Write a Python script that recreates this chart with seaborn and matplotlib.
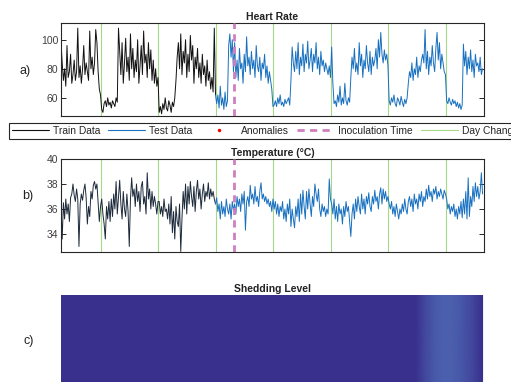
import numpy as np
import matplotlib
matplotlib.use('Agg')
import matplotlib.pyplot as plt
from matplotlib.lines import Line2D
from matplotlib.colors import LinearSegmentedColormap
import seaborn as sns

# heart rate, one value per half hour, split by day
hr_d0 = [98, 84, 72, 80, 68, 96, 74, 78, 90, 70, 76, 86, 72, 78, 108, 74, 82, 70, 80, 96,
         76, 84, 78, 72, 106, 80, 88, 76, 84, 107, 98, 78, 66, 62]
hr_d1 = [52, 50, 56, 58, 54, 60, 55, 57, 53, 58, 56, 54, 60, 57,
         108, 92, 76, 98, 70, 84, 101, 78, 88, 72, 104, 80, 94, 74, 86, 78, 100, 70, 82, 96,
         76, 106, 84, 90, 74, 98, 80, 93, 72, 86, 70, 80, 68, 74]
hr_d2 = [50, 54, 49, 56, 52, 60, 53, 51, 58, 55, 50, 57, 54, 60,
         72, 88, 98, 80, 104, 76, 92, 84, 100, 74, 90, 78, 103, 86, 96, 70, 88, 80, 94, 74,
         84, 70, 90, 76, 82, 68, 86, 72, 78, 66, 74, 64, 108, 62]
hr_d3 = [56, 62, 53, 68, 55, 60, 52, 64, 54, 58,
         96, 104, 88, 100, 78, 98, 74, 86, 72, 94, 80, 84, 70, 90, 78, 102, 82, 88, 76, 92,
         80, 86, 74, 96, 82, 78, 88, 72, 84, 80, 90, 74, 82, 70, 78, 72, 66, 54]
hr_d4 = [55, 58, 54, 60, 56, 62, 55, 57, 54, 59, 56, 58, 60, 55,
         72, 95, 84, 78, 92, 80, 98, 76, 88, 82, 97, 78, 90, 84, 99, 80, 86, 94, 78, 90,
         84, 98, 80, 88, 76, 92, 82, 86, 78, 84, 80, 76, 82, 74]
hr_d5 = [95, 70, 56, 58, 54, 62, 57, 68, 55, 60, 56, 70, 58, 55, 60, 57,
         74, 88, 80, 94, 78, 84, 76, 98, 82, 90, 74, 86, 80, 96, 84, 78, 92, 76, 88, 82,
         86, 94, 80, 100, 88, 105, 90, 84, 93, 86, 90, 82]
hr_d6 = [58, 55, 60, 57, 62, 56, 54, 60, 58, 55, 61, 57, 54, 59, 56, 60,
         70, 78, 74, 84, 72, 80, 76, 88, 74, 82, 78, 86, 90, 84, 107, 80, 92, 76, 88, 82,
         96, 84, 78, 94, 105, 86, 98, 80, 90, 84, 78, 76]
hr_d7 = [58, 56, 60, 57, 55, 59, 56, 58, 54, 57, 53, 56, 52, 55,
         97, 82, 92, 76, 88, 80, 93, 78, 86, 74, 90, 82, 84, 78, 88, 76, 80]

# body temperature (°C), same half-hour grid
temp_d0 = [36.2, 33.6, 36.5, 35.2, 36.8, 35.6, 36.4, 35.0, 36.9, 37.2, 38.0, 37.1, 36.6, 37.6,
           36.8, 33.0, 36.4, 37.2, 36.7, 37.5, 38.0, 36.9, 34.8, 36.2, 35.4, 37.4, 36.8, 37.9,
           38.2, 37.6, 38.0, 36.5, 35.0, 36.2]
temp_d1 = [36.8, 35.6, 34.8, 33.6, 36.2, 35.2, 36.6, 35.0, 36.8, 35.4, 37.2, 36.0, 38.2, 35.6,
           37.0, 38.3, 36.4, 35.2, 37.4, 36.0, 35.4, 37.2, 35.8, 33.0, 36.8, 38.5, 37.0, 37.6,
           36.2, 38.0, 36.6, 37.4, 35.8, 37.8, 38.2, 36.4, 37.0, 35.6, 38.9, 36.8, 37.6, 36.0,
           37.4, 36.2, 37.0, 36.4, 35.6, 36.6]
temp_d2 = [36.6, 35.6, 36.2, 35.4, 36.8, 35.8, 36.0, 35.2, 36.4, 34.8, 37.0, 34.1, 35.8, 33.6,
           36.2, 35.0, 34.6, 36.4, 32.6, 35.2, 37.4, 36.0, 38.0, 35.6, 37.8, 36.4, 38.2, 37.0,
           36.2, 37.8, 35.8, 37.4, 38.3, 36.8, 37.6, 36.0, 37.2, 38.0, 36.6, 37.4, 37.0, 38.1,
           36.8, 37.6, 37.0, 37.4, 36.8, 36.4]
temp_d3 = [36.9, 35.8, 36.4, 35.2, 36.6, 35.6, 36.2, 35.4, 36.8, 36.0, 35.6, 36.4, 35.2, 36.6,
           35.9, 36.4, 35.6, 37.0, 36.2, 36.8, 35.8, 37.2, 36.4, 37.4, 34.3, 36.6, 37.0, 36.2,
           37.9, 36.8, 37.2, 36.4, 37.8, 36.6, 37.0, 36.2, 37.4, 38.1, 36.8, 37.2, 36.6, 37.0,
           36.4, 36.8, 36.2, 36.6, 35.8, 36.8]
temp_d4 = [36.0, 36.6, 35.6, 36.4, 35.4, 36.2, 35.8, 36.6, 35.2, 36.0, 35.0, 36.4, 35.6, 36.8,
           34.6, 36.0, 35.2, 34.5, 36.2, 35.4, 36.8, 35.0, 37.2, 35.6, 37.5, 36.2, 35.2, 37.4,
           36.0, 37.6, 36.4, 35.4, 37.0, 36.2, 38.0, 37.2, 36.6, 37.6, 36.0, 35.4, 36.4, 35.8,
           36.2, 35.4, 36.0, 35.6, 38.4, 36.8]
temp_d5 = [36.4, 35.6, 36.8, 35.2, 36.2, 35.0, 36.4, 35.6, 36.0, 34.8, 36.2, 35.4, 36.6, 35.8,
           36.2, 35.0, 33.8, 35.6, 36.4, 35.2, 36.8, 35.8, 37.0, 36.2, 35.6, 37.2, 36.0, 36.8,
           35.6, 37.0, 36.4, 37.3, 36.2, 35.8, 37.0, 36.4, 37.5, 36.6, 37.0, 36.0, 37.2, 37.7,
           36.4, 37.6, 36.8, 37.4, 36.6, 37.0]
temp_d6 = [36.4, 36.0, 36.6, 35.6, 36.2, 35.4, 36.4, 35.8, 35.2, 36.0, 35.6, 36.4, 35.8, 36.8,
           36.0, 35.6, 36.6, 37.0, 36.2, 36.8, 35.8, 37.2, 36.4, 36.8, 36.0, 37.2, 36.6, 37.4,
           36.2, 37.0, 36.6, 37.6, 36.8, 37.9, 37.0, 37.4, 36.6, 37.6, 37.2, 37.8, 36.8, 37.4,
           37.0, 37.6, 37.2, 36.8, 37.5, 37.2]
temp_d7 = [36.8, 36.0, 36.4, 35.6, 36.2, 35.8, 36.4, 35.4, 36.0, 35.2, 36.2, 35.6, 36.6, 35.3,
           36.8, 35.6, 37.4, 35.2, 38.5, 35.4, 37.0, 36.2, 37.8, 36.6, 38.1, 37.0, 37.8, 36.8,
           37.4, 38.9, 37.2]

# shedding level, every 4 hours
shed_time = [0, 4, 8, 12, 16, 20, 24, 28, 32, 36, 40, 44, 48, 52, 56, 60, 64, 68, 72, 76,
             80, 84, 88, 92, 96, 100, 104, 108, 112, 116, 120, 124, 128, 132, 136, 140, 144,
             148, 152, 156, 160, 164, 168, 172, 176]
shed_level = [0, 0, 0, 0, 0, 0, 0, 0, 0, 0, 0, 0, 0, 0, 0, 0, 0, 0, 0, 0,
              0, 0, 0, 0, 0, 0, 0, 0, 0, 0, 0, 0, 0, 0, 0, 0, 0,
              0, 0.5, 0.85, 1.0, 0.95, 0.75, 0.45, 0.0]

day_changes = [16.7, 40.7, 64.7, 88.7, 112.7, 136.7, 160.7]
inoculation_time = 72.2
n_train = 130

hr = np.concatenate([hr_d0, hr_d1, hr_d2, hr_d3, hr_d4, hr_d5, hr_d6, hr_d7])
temp = np.concatenate([temp_d0, temp_d1, temp_d2, temp_d3, temp_d4, temp_d5, temp_d6, temp_d7])
t = np.arange(len(hr)) * 0.5

sns.set_theme(style='white')
plt.rcParams['font.family'] = ['Liberation Sans', 'DejaVu Sans']

TRAIN_HR = '#111111'
TRAIN_T = '#1c2a3b'
TEST = '#1870c0'
GREEN = '#a6d88a'
PINK = '#cf7ec0'
AX_COL = '#262626'

fig = plt.figure(figsize=(5.11, 3.82), dpi=100)
W, H = 511, 382


def add_axes(left, top, right, bottom):
    return fig.add_axes([left / W, 1 - bottom / H, (right - left) / W, (bottom - top) / H])


def style(ax, ylim, yticks):
    ax.set_xlim(0, 176.6)
    ax.set_ylim(*ylim)
    ax.set_xticks([])
    ax.set_yticks(yticks)
    ax.tick_params(axis='y', direction='in', length=3.5, width=0.7, right=True, left=True,
                   labelsize=7.5, labelcolor='#404040', color=AX_COL, pad=2)
    for s in ax.spines.values():
        s.set_color(AX_COL)
        s.set_linewidth(0.8)
    ax.set_xlabel('')
    ax.set_ylabel('')


def markers(ax):
    for d in day_changes:
        ax.axvline(d, color=GREEN, lw=0.8, zorder=1)
    ax.axvline(inoculation_time, color=PINK, lw=2.0, dashes=(2.6, 1.9), zorder=3)


# a) heart rate
ax1 = add_axes(61, 23, 484, 116)
markers(ax1)
sns.lineplot(x=t[:n_train], y=hr[:n_train], ax=ax1, color=TRAIN_HR, lw=0.7, zorder=2)
sns.lineplot(x=t[n_train - 1:], y=hr[n_train - 1:], ax=ax1, color=TEST, lw=0.7, zorder=2)
style(ax1, (47.5, 111.5), [60, 80, 100])
ax1.set_title('Heart Rate', fontsize=7.5, fontweight='bold', pad=2.5, color='#222222')

# b) temperature
ax2 = add_axes(61, 159, 484, 252)
markers(ax2)
sns.lineplot(x=t[:n_train], y=temp[:n_train], ax=ax2, color=TRAIN_T, lw=0.7, zorder=2)
sns.lineplot(x=t[n_train - 1:], y=temp[n_train - 1:], ax=ax2, color=TEST, lw=0.7, zorder=2)
style(ax2, (32.56, 40), [34, 36, 38, 40])
ax2.set_title('Temperature (°C)', fontsize=7.5, fontweight='bold', pad=2.5, color='#222222')

# c) shedding level
ax3 = add_axes(61, 295, 484, 388)
cmap = LinearSegmentedColormap.from_list('shed', ['#392f8d', '#4b60ae'])
ax3.pcolormesh(shed_time, [0, 1], np.vstack([shed_level, shed_level]),
               shading='gouraud', cmap=cmap, vmin=0, vmax=1)
ax3.set_xlim(0, 176.6)
ax3.set_ylim(0, 1)
ax3.set_xticks([])
ax3.set_yticks([])
for s in ax3.spines.values():
    s.set_visible(False)
ax3.set_title('Shedding Level', fontsize=7.5, fontweight='bold', pad=2.5, color='#222222')

# panel letters
for lbl, x, y in [('a)', 20, 71), ('b)', 22, 196), ('c)', 24, 341)]:
    fig.text(x / W, 1 - y / H, lbl, fontsize=9, va='center', ha='left', color='#222222')

# shared legend (runs off the right edge like the original)
handles = [
    Line2D([], [], color=TRAIN_HR, lw=0.8),
    Line2D([], [], color=TEST, lw=0.8),
    Line2D([], [], color='red', marker='.', ls='none', markersize=3),
    Line2D([], [], color=PINK, lw=2.0, dashes=(2.6, 1.9)),
    Line2D([], [], color=GREEN, lw=0.8),
]
labels = ['Train Data', 'Test Data', 'Anomalies', 'Inoculation Time', 'Day Change']
leg = fig.legend(handles, labels, loc='upper left', bbox_to_anchor=(9 / W, 1 - 123 / H),
                 ncol=5, frameon=True, fancybox=False, edgecolor=AX_COL, framealpha=1,
                 fontsize=7.4, handlelength=3.6, handletextpad=0.4, columnspacing=0.75,
                 borderpad=0.3, borderaxespad=0)
leg.get_frame().set_linewidth(0.8)

fig.savefig('out.png', dpi=100)
